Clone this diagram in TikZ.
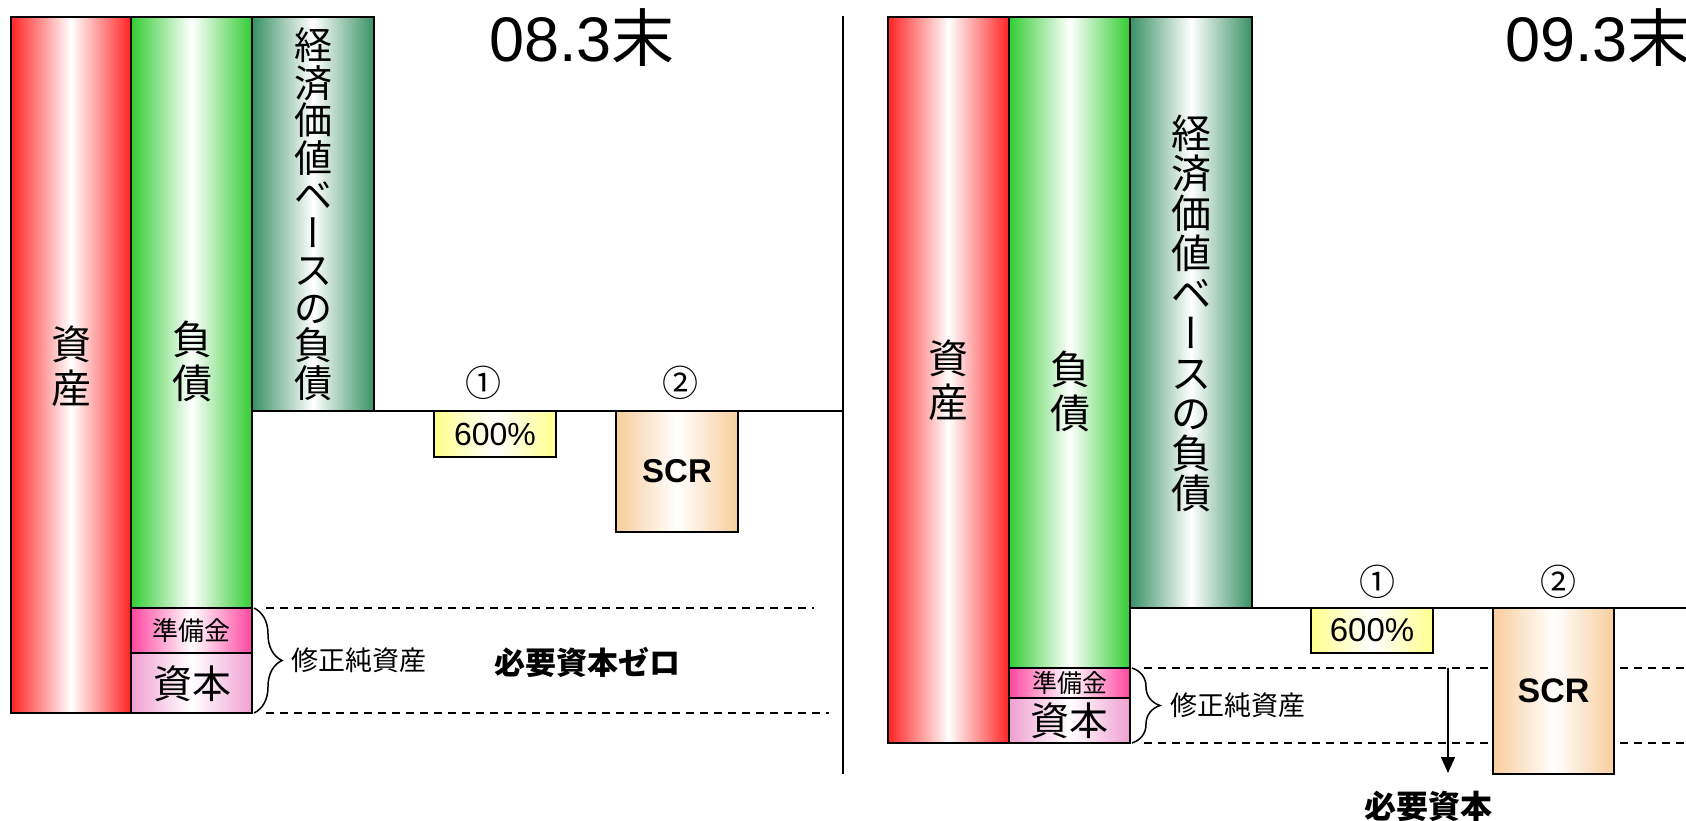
\documentclass[tikz,border=0pt]{standalone}
\usepackage{fontspec}
\setmainfont{Liberation Sans}
\newfontfamily\cjk{Noto Sans CJK JP}
\newfontfamily\cjkv{Noto Sans CJK JP}[RawFeature=+vert]
\usetikzlibrary{decorations.pathreplacing,arrows.meta}
\definecolor{redc}{RGB}{255,35,35}
\definecolor{greenc}{RGB}{50,205,50}
\definecolor{dgreenc}{RGB}{55,145,100}
\definecolor{pinkr}{RGB}{255,70,160}
\definecolor{pinkc}{RGB}{240,160,210}
\definecolor{yellowc}{RGB}{255,255,140}
\definecolor{peachc}{RGB}{248,205,155}
\newcommand{\vbar}{{\cjkv ー}}
\begin{document}
\begin{tikzpicture}[x=1pt,y=-1pt,
  col/.style={draw=black, line width=1.8pt, inner sep=0pt, outer sep=0pt, anchor=north west},
  redcol/.style={left color=redc, right color=redc, middle color=white},
  greencol/.style={left color=greenc, right color=greenc, middle color=white},
  dgreencol/.style={left color=dgreenc, right color=dgreenc, middle color=white},
  rescol/.style={left color=pinkr, right color=pinkr, middle color=white},
  capcol/.style={left color=pinkc, right color=pinkc, middle color=white},
  yelcol/.style={left color=yellowc, right color=yellowc, middle color=white},
  peachcol/.style={left color=peachc, right color=peachc, middle color=white},
  vtxt/.style={align=center, inner sep=0pt, font=\cjk\fontsize{40}{44}\selectfont},
  etxt/.style={align=center, inner sep=0pt, font=\cjk\fontsize{38}{37.5}\selectfont},
  smalltxt/.style={inner sep=0pt, font=\cjk\fontsize{26}{26}\selectfont},
  captxt/.style={inner sep=0pt, font=\cjk\fontsize{39}{39}\selectfont},
  nettxt/.style={inner sep=0pt, anchor=west, font=\cjk\fontsize{27}{27}\selectfont},
  numtxt/.style={inner sep=0pt, font=\cjk\fontsize{36}{36}\selectfont},
  boldtxt/.style={inner sep=0pt, font=\cjk\bfseries\fontsize{31}{31}\selectfont},
  titletxt/.style={inner sep=0pt, anchor=base west, font=\fontsize{63}{63}\selectfont},
  baseline/.style={line width=1.8pt},
  dashline/.style={line width=1.4pt, dash pattern=on 8pt off 6pt},
  bracestyle/.style={line width=1.5pt, decorate, decoration={brace, amplitude=28pt}}
]
\useasboundingbox (0,0) rectangle (1686,821);

% ---------------- left panel (08.3末) ----------------
\coordinate (lineL1) at (842,411);
\coordinate (divTop) at (843,16);
\coordinate (divBot) at (843,774);
\draw[line width=1.5pt] (divTop) -- (divBot);

\node[col, redcol, minimum width=120pt, minimum height=696pt] (asset1) at (11,17) {};
\node[col, greencol, minimum width=121pt, minimum height=591pt] (liab1) at (131,17) {};
\node[col, rescol, minimum width=121pt, minimum height=45pt] (res1) at (131,608) {};
\node[col, capcol, minimum width=121pt, minimum height=60pt] (cap1) at (131,653) {};
\node[col, dgreencol, minimum width=122pt, minimum height=394pt] (econ1) at (252,17) {};
\draw[baseline] (econ1.south west) -- (lineL1);
\node[col, yelcol, minimum width=122pt, minimum height=46pt] (p600a) at (434,411) {};
\node[col, peachcol, minimum width=122pt, minimum height=121pt] (scr1) at (616,411) {};

\node[vtxt] (asset1t) at (71,366) {資\\産};
\node[vtxt] (liab1t) at (192,361) {負\\債};
\node[etxt] (econ1t) at (313,214) {経\\済\\価\\値\\ベ\\\vbar\\ス\\の\\負\\債};
\node[smalltxt] (res1t) at (res1.center) {準備金};
\node[captxt] (cap1t) at (192,684) {資本};
\node[inner sep=0pt, font=\fontsize{32}{32}\selectfont] (p600at) at (p600a.center) {600\%};
\node[inner sep=0pt, font=\bfseries\fontsize{33}{33}\selectfont] (scr1t) at (scr1.center) {SCR};
\node[numtxt] (c1a) at (483,383) {①};
\node[numtxt] (c2a) at (680,383) {②};
\node[titletxt] (title1) at (489,62) {08.3{\cjk 末}};

\draw[bracestyle] ([xshift=2pt]res1.north east) -- ([xshift=2pt]cap1.south east);
\node[nettxt] (net1) at (291,660) {修正純資産};
\coordinate (dA1s) at (266,608);
\coordinate (dA1e) at (814,608);
\coordinate (dB1s) at (266,713);
\coordinate (dB1e) at (829,713);
\draw[dashline] (dA1s) -- (dA1e);
\draw[dashline] (dB1s) -- (dB1e);
\node[boldtxt] (req1) at (587,662) {必要資本ゼロ};

% ---------------- right panel (09.3末) ----------------
\coordinate (lineR1) at (1686,608);
\node[col, redcol, minimum width=121pt, minimum height=726pt] (asset2) at (888,17) {};
\node[col, greencol, minimum width=121pt, minimum height=651pt] (liab2) at (1009,17) {};
\node[col, rescol, minimum width=121pt, minimum height=30pt] (res2) at (1009,668) {};
\node[col, capcol, minimum width=121pt, minimum height=45pt] (cap2) at (1009,698) {};
\node[col, dgreencol, minimum width=122pt, minimum height=591pt] (econ2) at (1130,17) {};
\draw[baseline] (econ2.south west) -- (lineR1);
\node[col, yelcol, minimum width=122pt, minimum height=45pt] (p600b) at (1311,608) {};
\node[col, peachcol, minimum width=121pt, minimum height=166pt] (scr2) at (1493,608) {};

\node[vtxt] (asset2t) at (948,380) {資\\産};
\node[vtxt] (liab2t) at (1070,391) {負\\債};
\node[etxt, font=\cjk\fontsize{40}{40}\selectfont] (econ2t) at (1191,313) {経\\済\\価\\値\\ベ\\\vbar\\ス\\の\\負\\債};
\node[smalltxt, font=\cjk\fontsize{25}{25}\selectfont] (res2t) at (res2.center) {準備金};
\node[captxt] (cap2t) at (cap2.center) {資本};
\node[inner sep=0pt, font=\fontsize{33}{33}\selectfont] (p600bt) at (p600b.center) {600\%};
\node[inner sep=0pt, font=\bfseries\fontsize{34}{34}\selectfont] (scr2t) at (scr2.center) {SCR};
\node[numtxt] (c1b) at (1377,582) {①};
\node[numtxt] (c2b) at (1558,582) {②};
\node[titletxt] (title2) at (1505,62) {09.3{\cjk 末}};

\draw[bracestyle] ([xshift=2pt]res2.north east) -- ([xshift=2pt]cap2.south east);
\node[nettxt] (net2) at (1170,705) {修正純資産};
\coordinate (dA2s) at (1144,668);
\coordinate (dB2s) at (1144,743);
\coordinate (dA2e) at (1686,668);
\coordinate (dB2e) at (1686,743);
\draw[dashline] (dA2s) -- (scr2.west |- dA2s);
\draw[dashline] (dB2s) -- (scr2.west |- dB2s);
\draw[dashline] (scr2.east |- dA2s) ++(6,0) -- (dA2e);
\draw[dashline] (scr2.east |- dB2s) ++(6,0) -- (dB2e);
\coordinate (arrS) at (1448,668);
\coordinate (arrE) at (1448,773);
\draw[line width=1.5pt, -{Triangle[width=14pt,length=16pt]}] (arrS) -- (arrE);
\node[boldtxt, font=\cjk\bfseries\fontsize{32}{32}\selectfont] (req2) at (1428,806) {必要資本};
\end{tikzpicture}
\end{document}
